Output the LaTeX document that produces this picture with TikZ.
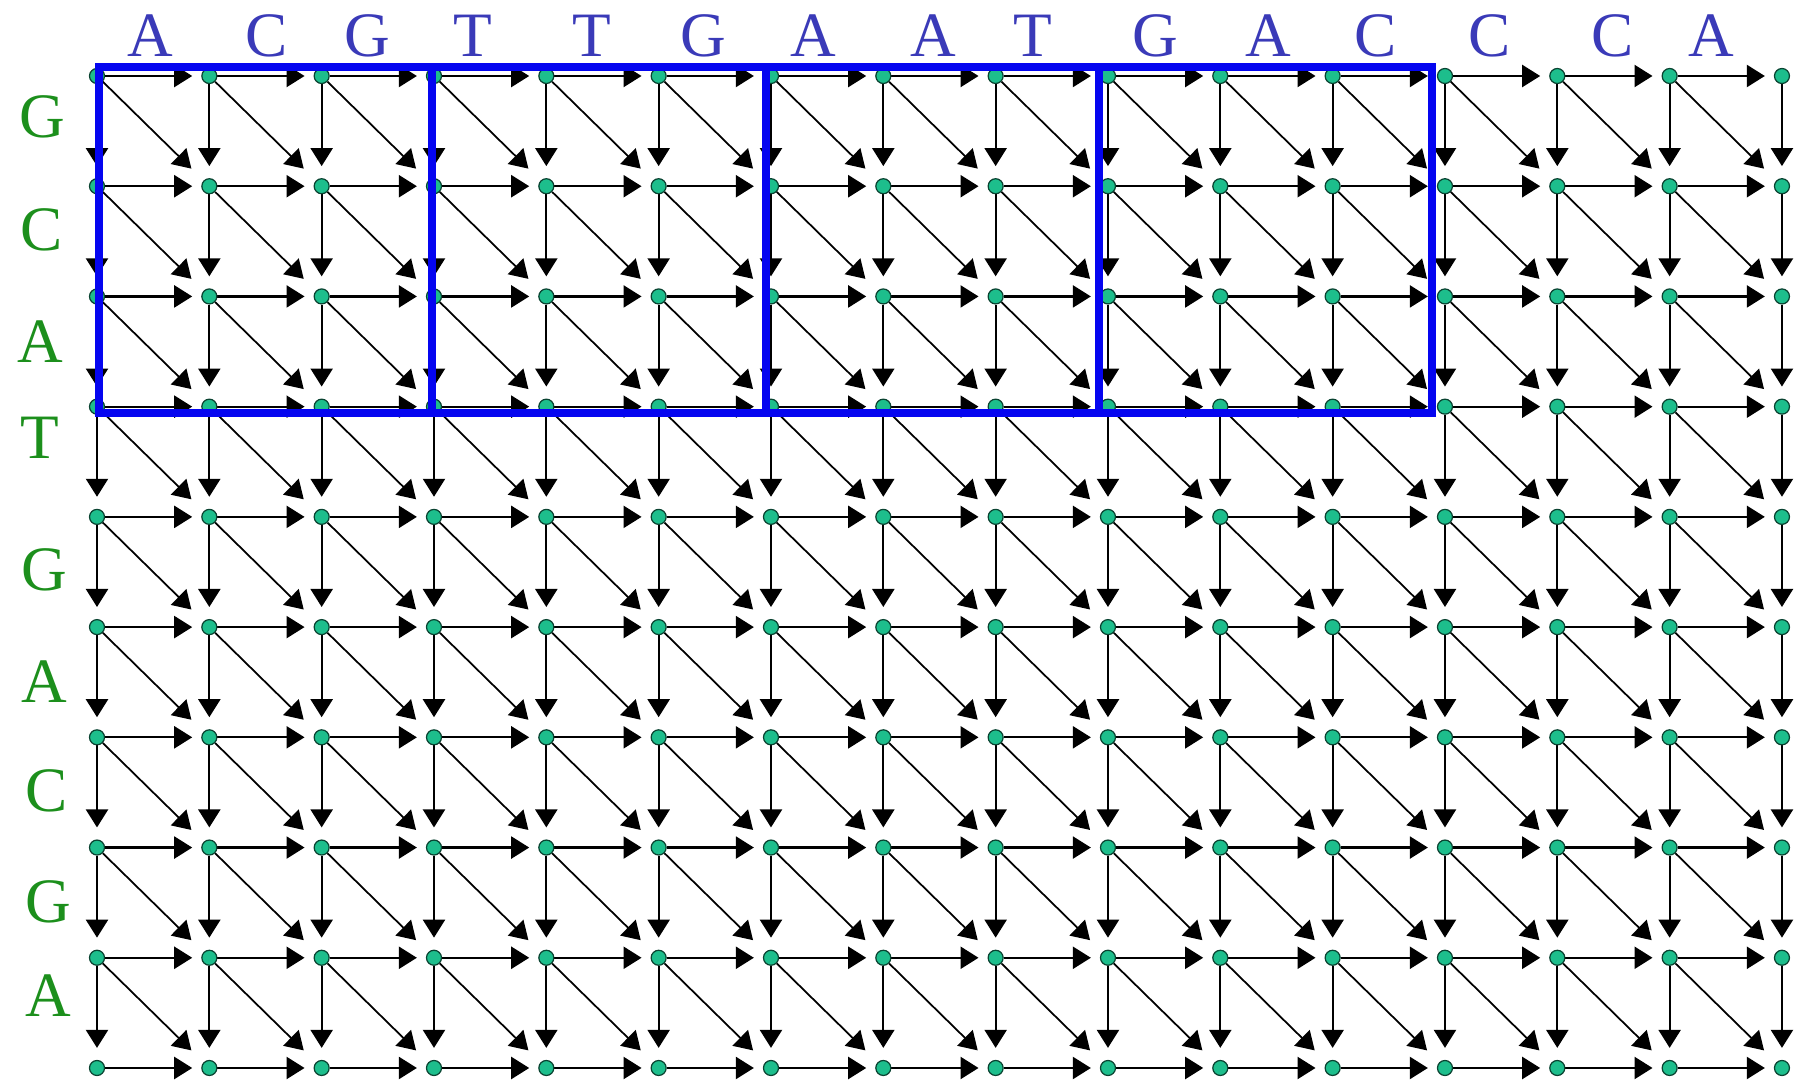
\documentclass[tikz,border=0pt]{standalone}
\usepackage{fontspec}
\setmainfont{Liberation Serif}
\usetikzlibrary{arrows.meta}
\definecolor{seqtop}{HTML}{3A3AB8}
\definecolor{seqside}{HTML}{1C8F1C}
\definecolor{cell}{HTML}{1DBE8C}
\definecolor{block}{HTML}{0505F0}
\pgfdeclarelayer{bg}
\pgfsetlayers{bg,main}

\begin{document}
\begin{tikzpicture}[x=0.02cm,y=-0.02cm,>={Triangle[length=0.36cm,width=0.44cm]},
    dot/.style={circle,fill=cell,draw=cell!35!black,line width=0.7pt,inner sep=0pt,minimum size=0.3cm},
    edge/.style={->,line width=1.3pt},
    toplabel/.style={text=seqtop,anchor=base,font=\fontsize{36}{40}\selectfont},
    sidelabel/.style={text=seqside,font=\fontsize{36}{40}\selectfont},
    blockbox/.style={draw=block,line width=0.16cm}]
  \useasboundingbox (0,0) rectangle (1798,1081);
  % grid of cells
  \foreach \i in {0,...,15}
    \foreach \j in {0,...,9}
      \node[dot] (n-\i-\j) at ({97+112.33*\i},{76+110.22*\j}) {};
  \begin{pgfonlayer}{bg}
    \foreach \i in {0,...,15}
      \foreach \j in {0,...,9} {
        \pgfmathtruncatemacro\ni{\i+1}
        \pgfmathtruncatemacro\nj{\j+1}
        \ifnum\i<15
          \draw[edge,shorten >=0.18cm] (n-\i-\j) -- (n-\ni-\j);
        \fi
        \ifnum\j<9
          \draw[edge,shorten >=0.24cm] (n-\i-\j) -- (n-\i-\nj);
          \ifnum\i<15
            \draw[edge,line width=1pt,shorten >=0.34cm] (n-\i-\j) -- (n-\ni-\nj);
          \fi
        \fi
      }
  \end{pgfonlayer}
  % sequences
  \foreach \x/\c [count=\k] in {150/A,267/C,367/G,473/T,592/T,703/G,813/A,933/A,
      1033/T,1155/G,1268/A,1376/C,1490/C,1613/C,1711/A}
    \node[toplabel] (top-\k) at (\x,57) {\c};
  \foreach \x/\y/\c [count=\k] in {42/117/G,42/230/C,40/342/A,40/438/T,44/570/G,
      44/682/A,47/791/C,48/902/G,48/996/A}
    \node[sidelabel] (side-\k) at (\x,\y) {\c};
  % blocks
  \foreach \a/\b in {99/432,432/766,766/1099,1099/1432}
    \draw[blockbox] (\a,67) rectangle (\b,413);
\end{tikzpicture}
\end{document}
